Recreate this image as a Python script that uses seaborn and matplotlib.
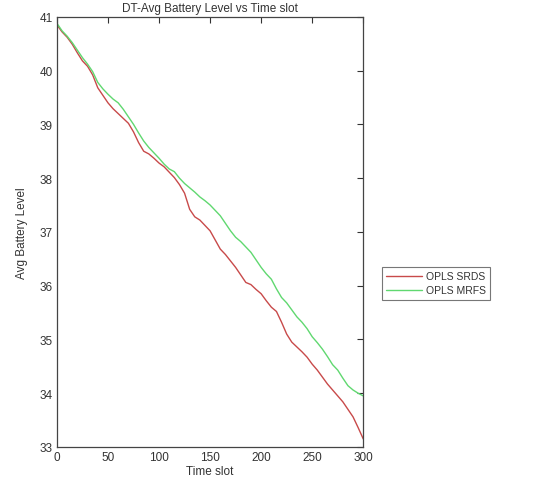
import numpy as np
import pandas as pd
import matplotlib
matplotlib.use("Agg")
import matplotlib.pyplot as plt
import seaborn as sns

time_slot = list(range(0, 301, 5))
opls_srds = [40.85, 40.72, 40.62, 40.49, 40.33, 40.18, 40.08, 39.92, 39.68, 39.54,
             39.40, 39.29, 39.20, 39.11, 39.02, 38.86, 38.66, 38.50, 38.45, 38.37,
             38.28, 38.21, 38.11, 38.01, 37.88, 37.72, 37.42, 37.28, 37.22, 37.12,
             37.02, 36.85, 36.68, 36.58, 36.46, 36.34, 36.20, 36.06, 36.02, 35.93,
             35.85, 35.72, 35.60, 35.52, 35.32, 35.10, 34.95, 34.86, 34.77, 34.67,
             34.54, 34.43, 34.30, 34.17, 34.06, 33.95, 33.84, 33.70, 33.56, 33.36,
             33.15]
opls_mrfs = [40.88, 40.74, 40.64, 40.52, 40.38, 40.24, 40.12, 39.98, 39.78, 39.66,
             39.56, 39.47, 39.40, 39.28, 39.14, 39.00, 38.84, 38.69, 38.57, 38.47,
             38.37, 38.26, 38.17, 38.12, 38.00, 37.90, 37.82, 37.74, 37.65, 37.58,
             37.50, 37.40, 37.30, 37.16, 37.02, 36.90, 36.82, 36.72, 36.62, 36.48,
             36.34, 36.22, 36.12, 35.94, 35.78, 35.68, 35.55, 35.42, 35.32, 35.20,
             35.05, 34.94, 34.82, 34.68, 34.53, 34.43, 34.28, 34.14, 34.06, 34.00,
             33.95]
series_names = ["OPLS SRDS", "OPLS MRFS"]
x_ticks = [0, 50, 100, 150, 200, 250, 300]
y_ticks = [33, 34, 35, 36, 37, 38, 39, 40, 41]

df = pd.DataFrame({
    "Time slot": time_slot * 2,
    "Avg Battery Level": opls_srds + opls_mrfs,
    "series": [series_names[0]] * len(time_slot) + [series_names[1]] * len(time_slot),
})

sns.set_style("white")
plt.rcParams['font.family'] = ['Liberation Sans', 'DejaVu Sans']

red = "#c84a4a"
green = "#60d870"
txt = "#333333"

fig = plt.figure(figsize=(5.58, 4.85), dpi=100)
ax = fig.add_axes([0.102, 0.0763, 0.549, 0.887])
sns.lineplot(data=df, x="Time slot", y="Avg Battery Level", hue="series",
             palette={series_names[0]: red, series_names[1]: green},
             linewidth=1.0, ax=ax, legend=False)

ax.set_xlim(0, 300)
ax.set_ylim(33, 41)
ax.set_xticks(x_ticks)
ax.set_yticks(y_ticks)
ax.tick_params(direction="in", length=4, width=0.8, labelsize=8.5, colors=txt,
               top=True, right=True, pad=3)
for s in ax.spines.values():
    s.set_color("#444444")
    s.set_linewidth(0.9)
ax.set_xlabel("Time slot", fontsize=8.5, color=txt, labelpad=1)
ax.set_ylabel("Avg Battery Level", fontsize=8.5, color=txt, labelpad=8)
ax.set_title("DT-Avg Battery Level vs Time slot", fontsize=8.5, color=txt, pad=4)

handles = [plt.Line2D([], [], color=red, lw=1.0),
           plt.Line2D([], [], color=green, lw=1.0)]
leg = fig.legend(handles, series_names, loc="upper left",
                 bbox_to_anchor=(382 / 558, 1 - 268 / 485),
                 prop={"family": ["Liberation Sans Narrow", "Liberation Sans"], "size": 7.5},
                 frameon=True, fancybox=False, handlelength=3.4, handletextpad=0.4,
                 borderpad=0.4, labelspacing=0.4, borderaxespad=0)
leg.get_frame().set_edgecolor("#555555")
leg.get_frame().set_linewidth(0.8)
for t in leg.get_texts():
    t.set_color(txt)

fig.savefig("out.png", dpi=100)
